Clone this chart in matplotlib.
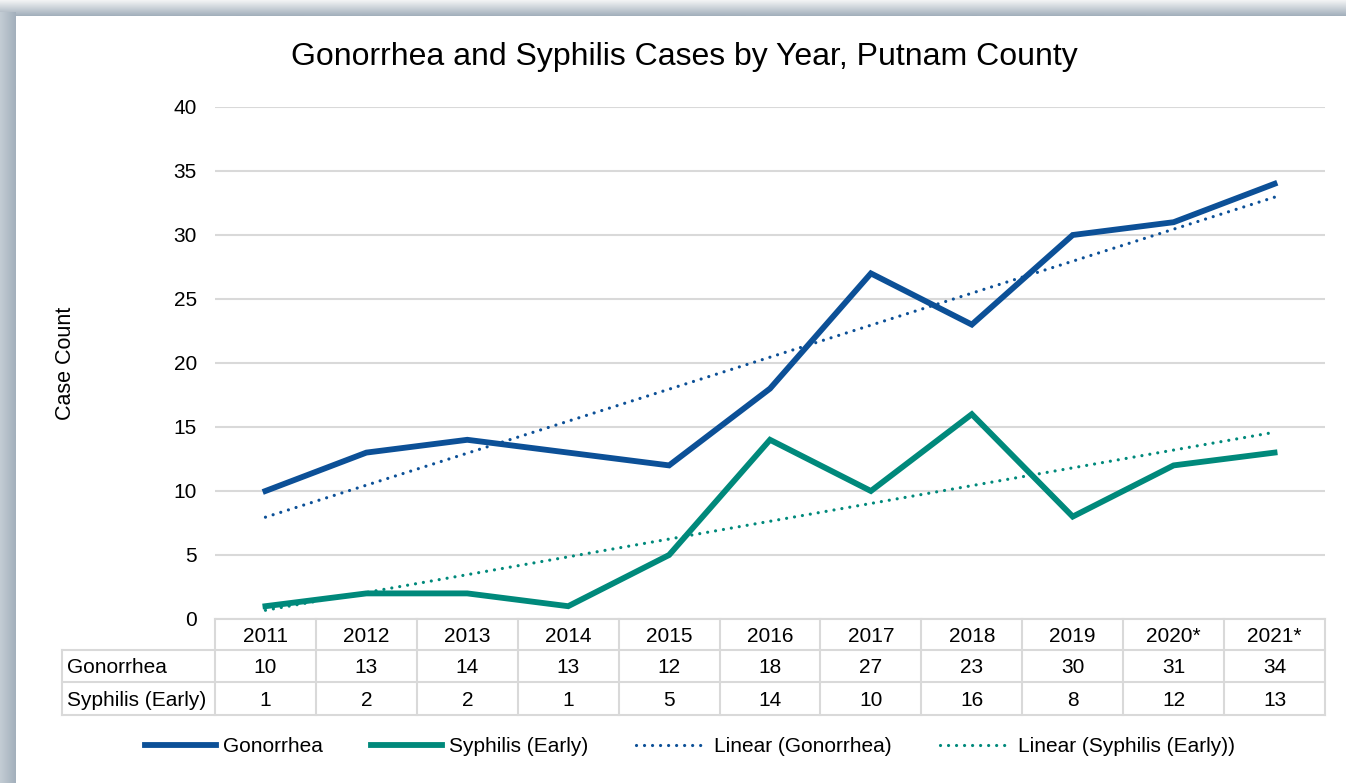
import numpy as np
import matplotlib
matplotlib.use("Agg")
import matplotlib.pyplot as plt
from matplotlib.transforms import blended_transform_factory
from matplotlib.lines import Line2D

plt.rcParams['font.family'] = ['Liberation Sans', 'DejaVu Sans']

years = ['2011', '2012', '2013', '2014', '2015', '2016', '2017', '2018', '2019', '2020*', '2021*']
gonorrhea = [10, 13, 14, 13, 12, 18, 27, 23, 30, 31, 34]
syphilis = [1, 2, 2, 1, 5, 14, 10, 16, 8, 12, 13]
series_names = ['Gonorrhea', 'Syphilis (Early)']

blue = '#0c5097'
teal = '#00897b'
grid_col = '#d9d9d9'
fs = 15

W, H = 1346, 783
fig = plt.figure(figsize=(W / 100, H / 100), dpi=100)

# shadowed frame around the chart area
bg = fig.add_axes([0, 0, 1, 1], zorder=-5)
bg.set_xlim(0, W)
bg.set_ylim(H, 0)
bg.axis('off')
top_grad = np.linspace(0, 1, 16).reshape(-1, 1)
bg.imshow(top_grad, extent=(0, W, 16, 0), cmap=matplotlib.colors.LinearSegmentedColormap.from_list('t', ['#f2f3f4', '#a3b0bc']),
          aspect='auto', interpolation='bilinear')
left_grad = np.linspace(0, 1, 16).reshape(1, -1)
bg.imshow(left_grad, extent=(0, 16, H, 12), cmap=matplotlib.colors.LinearSegmentedColormap.from_list('l', ['#c3ccd4', '#a3b0bc']),
          aspect='auto', interpolation='bilinear')
bg.add_patch(plt.Rectangle((16, 16), W - 16, H - 16, facecolor='white', edgecolor='none'))

ax = fig.add_axes([215 / W, 1 - 619 / H, 1110 / W, 512 / H])
x = np.arange(len(years))

ax.plot(x, gonorrhea, color=blue, lw=4.2, solid_joinstyle='miter', zorder=4)
ax.plot(x, syphilis, color=teal, lw=4.2, solid_joinstyle='miter', zorder=4)

dot_style = (0, (0.01, 2.5))
g_fit = np.polyfit(x, gonorrhea, 1)
s_fit = np.polyfit(x, syphilis, 1)
ax.plot(x, np.polyval(g_fit, x), color=blue, lw=2.3, linestyle=dot_style, dash_capstyle='round', zorder=3)
ax.plot(x, np.polyval(s_fit, x), color=teal, lw=2.3, linestyle=dot_style, dash_capstyle='round', zorder=3)

ax.set_xlim(-0.5, len(years) - 0.5)
ax.set_ylim(0, 40)
ax.set_yticks(range(0, 41, 5))
ax.set_xticks([])
ax.grid(axis='y', color=grid_col, lw=1.5)
ax.set_axisbelow(True)
for s in ax.spines.values():
    s.set_visible(False)
ax.tick_params(axis='y', length=0, pad=13, labelsize=fs)
ax.set_ylabel('Case Count', fontsize=fs + 0.5)
ax.yaxis.set_label_coords(-0.125, 0.5)

fig.text(684 / W, 1 - 57 / H, 'Gonorrhea and Syphilis Cases by Year, Putnam County',
         ha='center', va='center', fontsize=23)

# data table under the axis
tr = blended_transform_factory(ax.transData, ax.transAxes)
row_y = [0, -0.0605, -0.123, -0.1875]
label_left = -0.1378
ax.plot([-0.5, len(years) - 0.5], [0, 0], transform=tr, color=grid_col, lw=1.5, clip_on=False)
for yy in row_y[1:]:
    ax.plot([label_left, 1], [yy, yy], transform=ax.transAxes, color=grid_col, lw=1.5, clip_on=False)
for i in range(len(years) + 1):
    ax.plot([i - 0.5, i - 0.5], [0, row_y[-1]], transform=tr, color=grid_col, lw=1.5, clip_on=False)
ax.plot([label_left, label_left], [row_y[1], row_y[-1]], transform=ax.transAxes, color=grid_col, lw=1.5, clip_on=False)

rows = [years, gonorrhea, syphilis]
for r, vals in enumerate(rows):
    yc = (row_y[r] + row_y[r + 1]) / 2 - 0.003
    for i, v in enumerate(vals):
        ax.text(i, yc, str(v), transform=tr, ha='center', va='center', fontsize=fs)
    if r > 0:
        ax.text(label_left + 0.0045, yc, series_names[r - 1], transform=ax.transAxes,
                ha='left', va='center', fontsize=fs)

handles = [
    Line2D([], [], color=blue, lw=4.2),
    Line2D([], [], color=teal, lw=4.2),
    Line2D([], [], color=blue, lw=2.3, linestyle=dot_style, dash_capstyle='round'),
    Line2D([], [], color=teal, lw=2.3, linestyle=dot_style, dash_capstyle='round'),
]
labels = ['Gonorrhea', 'Syphilis (Early)', 'Linear (Gonorrhea)', 'Linear (Syphilis (Early))']
fig.legend(handles, labels, loc='center', bbox_to_anchor=(690 / W, 1 - 747 / H), ncol=4,
           frameon=False, fontsize=fs, handlelength=3.4, handletextpad=0.35, columnspacing=2.3)

fig.savefig('out.png', dpi=100)
